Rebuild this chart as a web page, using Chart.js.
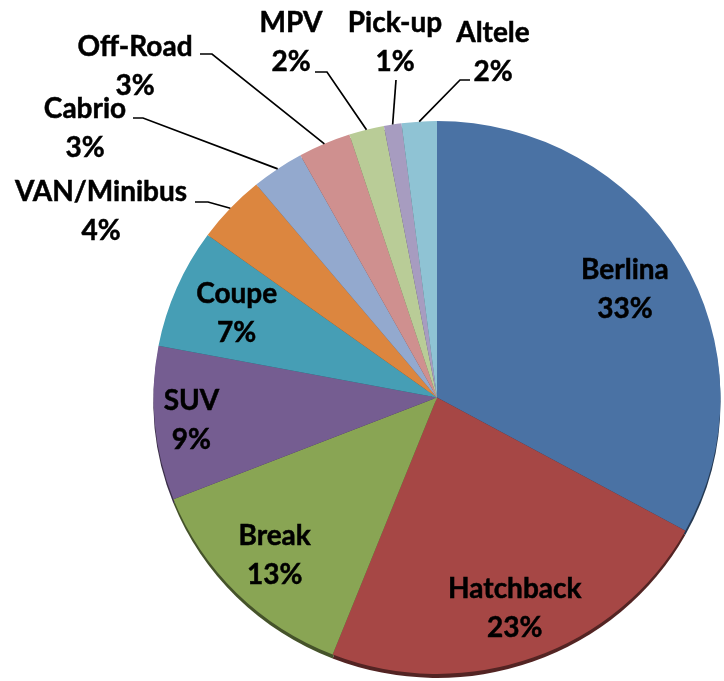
<!DOCTYPE html>
<html>
<head>
<meta charset="utf-8">
<script src="https://cdn.jsdelivr.net/npm/chart.js@4.4.0/dist/chart.umd.min.js"></script>
<style>
  html, body { margin: 0; padding: 0; background: #fff; overflow: hidden; }
</style>
</head>
<body>
<canvas id="pie" width="724" height="681"></canvas>
<script>
// data
const categories = ['Berlina', 'Hatchback', 'Break', 'SUV', 'Coupe', 'VAN/Minibus', 'Cabrio', 'Off-Road', 'MPV', 'Pick-up', 'Altele'];
const shares = [33, 23, 13, 9, 7, 4, 3, 3, 2, 1, 2];
const colors = ['#4A72A4', '#A64745', '#89A554', '#755D91', '#469EB5', '#DC863F', '#93A9CE', '#CF908F', '#B9CC97', '#A79CC0', '#8FC3D4'];

// look of the labels
const labelFont = 'bold 28px Lato';
const lineGap = 39;
const tilt = 0.975;   // slight 3D squash of the pie
const rimDepth = 4;   // dark side visible under the pie

// labels that sit inside their slice: fraction of the radius
const insideAt = { 'Berlina': 0.77, 'Hatchback': 0.81, 'Break': 0.81, 'SUV': 0.87, 'Coupe': 0.77 };

// labels pulled outside with a leader line: text centre + elbow of the line
const callouts = {
  'VAN/Minibus': { at: [101, 192], elbow: [[195, 202], [208, 202]] },
  'Cabrio':      { at: [85, 109],  elbow: [[133, 118], [143, 118]] },
  'Off-Road':    { at: [135, 47],  elbow: [[200, 54], [212, 54]] },
  'MPV':         { at: [291, 23],  elbow: [[315, 72], [327, 72]] },
  'Pick-up':     { at: [395, 23],  elbow: [[396, 80]] },
  'Altele':      { at: [493, 33],  elbow: [[470, 80], [460, 80]] }
};

function darker(hex, k) {
  const n = parseInt(hex.slice(1), 16);
  const r = Math.round(((n >> 16) & 255) * k);
  const g = Math.round(((n >> 8) & 255) * k);
  const b = Math.round((n & 255) * k);
  return 'rgb(' + r + ',' + g + ',' + b + ')';
}

function boldText(ctx, s, x, y) {
  ctx.fillText(s, x, y);
  ctx.strokeText(s, x, y);
}

const pieLook = {
  id: 'pieLook',
  beforeDatasetsDraw(chart) {
    const ctx = chart.ctx;
    const arcs = chart.getDatasetMeta(0).data;
    const cx = arcs[0].x, cy = arcs[0].y;
    ctx.save();
    ctx.translate(cx, cy);
    ctx.scale(1, tilt);
    ctx.translate(-cx, -cy);
    // side of the 3D pie, drawn a little lower and darker
    arcs.forEach((a, i) => {
      ctx.beginPath();
      ctx.moveTo(a.x, a.y + rimDepth / tilt);
      ctx.arc(a.x, a.y + rimDepth / tilt, a.outerRadius, a.startAngle, a.endAngle);
      ctx.closePath();
      ctx.fillStyle = darker(colors[i], 0.5);
      ctx.fill();
    });
  },
  afterDatasetsDraw(chart) {
    chart.ctx.restore();
  },
  afterDraw(chart) {
    const ctx = chart.ctx;
    const arcs = chart.getDatasetMeta(0).data;
    ctx.save();
    ctx.font = labelFont;
    ctx.textAlign = 'center';
    ctx.textBaseline = 'middle';
    arcs.forEach((a, i) => {
      const name = categories[i];
      const pct = shares[i] + '%';
      const mid = (a.startAngle + a.endAngle) / 2;
      ctx.fillStyle = '#000';
      ctx.strokeStyle = '#000';
      if (insideAt[name] !== undefined) {
        const f = insideAt[name];
        const x = a.x + Math.cos(mid) * a.outerRadius * f;
        const y = a.y + Math.sin(mid) * a.outerRadius * f * tilt;
        ctx.lineWidth = 0.5;
        boldText(ctx, name, x, y - lineGap / 2);
        boldText(ctx, pct, x, y + lineGap / 2);
      } else {
        const c = callouts[name];
        const ex = a.x + Math.cos(mid) * a.outerRadius;
        const ey = a.y + Math.sin(mid) * a.outerRadius * tilt;
        ctx.beginPath();
        ctx.moveTo(c.elbow[0][0], c.elbow[0][1]);
        for (let k = 1; k < c.elbow.length; k++) ctx.lineTo(c.elbow[k][0], c.elbow[k][1]);
        ctx.lineTo(ex, ey);
        ctx.lineWidth = 1.7;
        ctx.stroke();
        ctx.lineWidth = 0.5;
        boldText(ctx, name, c.at[0], c.at[1]);
        boldText(ctx, pct, c.at[0], c.at[1] + lineGap);
      }
    });
    ctx.restore();
  }
};

new Chart(document.getElementById('pie'), {
  type: 'pie',
  data: {
    labels: categories,
    datasets: [{
      data: shares,
      backgroundColor: colors,
      borderWidth: 0
    }]
  },
  options: {
    responsive: false,
    animation: false,
    events: [],
    layout: { padding: { left: 153, right: 3, top: 114, bottom: 0 } },
    plugins: {
      legend: { display: false },
      tooltip: { enabled: false }
    }
  },
  plugins: [pieLook]
});
</script>
</body>
</html>
